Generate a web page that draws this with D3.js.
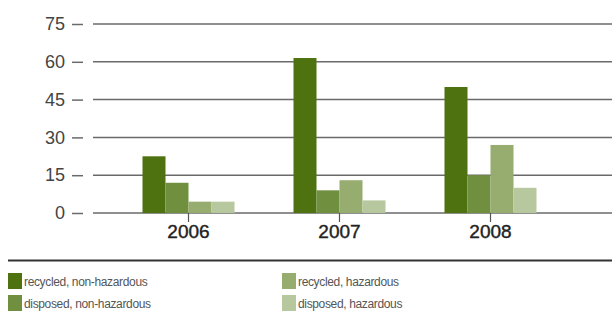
<!DOCTYPE html>
<html>
<head>
<meta charset="utf-8">
<script src="https://cdn.jsdelivr.net/npm/d3@7/dist/d3.min.js"></script>
<style>
  html, body { margin: 0; padding: 0; background: #fff; }
  svg { display: block; font-family: "Liberation Sans", Arial, Helvetica, sans-serif; }
</style>
</head>
<body>
<svg id="chart" width="612" height="313"></svg>
<script>
// data
const years = ['2006', '2007', '2008'];
const seriesNames = ['recycled, non-hazardous', 'disposed, non-hazardous', 'recycled, hazardous', 'disposed, hazardous'];
const recycledNonHaz = [22.5, 61.5, 50];
const disposedNonHaz = [12, 9, 15];
const recycledHaz = [4.5, 13, 27];
const disposedHaz = [4.5, 5, 10];
const yTicks = [0, 15, 30, 45, 60, 75];
const colors = ['#4e7210', '#71903f', '#97ad6f', '#b8c89e'];

const seriesValues = [recycledNonHaz, disposedNonHaz, recycledHaz, disposedHaz];

const svg = d3.select('#chart');

const y = d3.scaleLinear().domain([0, 75]).range([213, 24]);
const x = d3.scaleBand().domain(years).range([113, 566]);
const groupWidth = 92;
const xInner = d3.scaleBand()
  .domain(d3.range(seriesNames.length))
  .range([x.bandwidth() / 2 - groupWidth / 2, x.bandwidth() / 2 + groupWidth / 2]);

// gridlines
svg.append('g')
  .selectAll('line')
  .data(yTicks)
  .join('line')
  .attr('x1', 93)
  .attr('x2', 612)
  .attr('y1', d => y(d))
  .attr('y2', d => y(d))
  .attr('stroke', '#6a6a6a')
  .attr('stroke-width', 1.5);

// y axis: short ticks + labels
const yAxis = svg.append('g')
  .attr('transform', 'translate(83,0)')
  .call(d3.axisLeft(y).tickValues(yTicks).tickSize(11).tickPadding(7));
yAxis.select('.domain').remove();
yAxis.selectAll('.tick line').attr('stroke', '#6a6a6a').attr('stroke-width', 1.5);
yAxis.selectAll('.tick text')
  .attr('fill', '#444')
  .style('font-size', '18px')
  .style('font-family', '"Liberation Sans", Arial, sans-serif');

// bars
const groups = svg.append('g')
  .selectAll('g')
  .data(years)
  .join('g')
  .attr('transform', d => `translate(${x(d)},0)`);

groups.selectAll('rect')
  .data((d, i) => seriesValues.map((vals, s) => ({ s, v: vals[i] })))
  .join('rect')
  .attr('x', d => xInner(d.s))
  .attr('width', xInner.bandwidth())
  .attr('y', d => y(d.v))
  .attr('height', d => y(0) - y(d.v))
  .attr('fill', d => colors[d.s]);

// x axis
const xAxis = svg.append('g')
  .attr('transform', `translate(0,${y(0)})`)
  .call(d3.axisBottom(x).tickSize(9).tickPadding(3));
xAxis.select('.domain').remove();
xAxis.selectAll('.tick line').attr('stroke', '#555').attr('stroke-width', 1.2);
xAxis.selectAll('.tick text')
  .attr('fill', '#222')
  .attr('stroke', '#222')
  .attr('stroke-width', 0.4)
  .style('font-size', '19px')
  .style('font-family', '"Liberation Sans", Arial, sans-serif');

// legend separator
svg.append('line')
  .attr('x1', 8).attr('x2', 612)
  .attr('y1', 260.5).attr('y2', 260.5)
  .attr('stroke', '#333')
  .attr('stroke-width', 1.8);

// legend
const legendPos = [[8, 273], [8, 295], [282, 273], [282, 295]];
const legend = svg.append('g')
  .selectAll('g')
  .data(seriesNames)
  .join('g')
  .attr('transform', (d, i) => `translate(${legendPos[i][0]},${legendPos[i][1]})`);

legend.append('rect')
  .attr('width', 14)
  .attr('height', 16)
  .attr('fill', (d, i) => colors[i]);

legend.append('text')
  .attr('x', 16)
  .attr('y', 12.5)
  .attr('fill', '#555')
  .style('font-size', '12px')
  .style('letter-spacing', '-0.35px')
  .text(d => d);
</script>
</body>
</html>
